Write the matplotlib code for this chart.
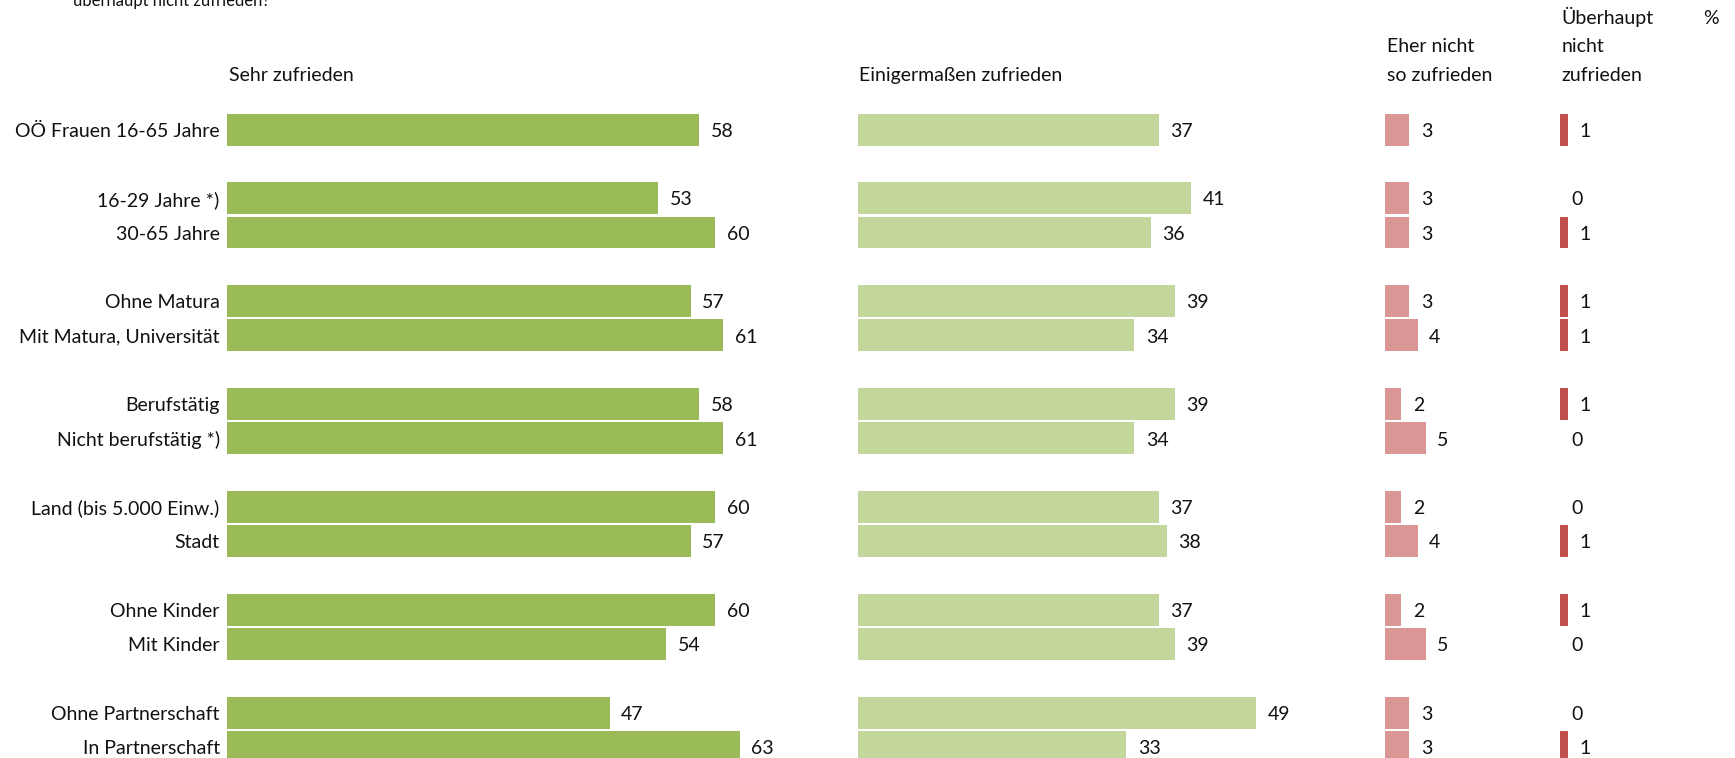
import matplotlib
matplotlib.use("Agg")
import matplotlib.pyplot as plt

plt.rcParams['font.family'] = ['Lato', 'DejaVu Sans']

categories = ["OÖ Frauen 16-65 Jahre", "16-29 Jahre *)", "30-65 Jahre",
              "Ohne Matura", "Mit Matura, Universität",
              "Berufstätig", "Nicht berufstätig *)",
              "Land (bis 5.000 Einw.)", "Stadt",
              "Ohne Kinder", "Mit Kinder",
              "Ohne Partnerschaft", "In Partnerschaft"]
row_pos = [0, 2, 3, 5, 6, 8, 9, 11, 12, 14, 15, 17, 18]

sehr = [58, 53, 60, 57, 61, 58, 61, 60, 57, 60, 54, 47, 63]
einigermassen = [37, 41, 36, 39, 34, 39, 34, 37, 38, 37, 39, 49, 33]
eher_nicht = [3, 3, 3, 3, 4, 2, 5, 2, 4, 2, 5, 3, 3]
ueberhaupt_nicht = [1, 0, 1, 1, 1, 1, 0, 0, 1, 1, 0, 0, 1]

headers = ["Sehr zufrieden", "Einigermaßen zufrieden",
           "Eher nicht\nso zufrieden", "Überhaupt\nnicht\nzufrieden"]
colors = ["#9BBB59", "#C3D69B", "#D99694", "#C0504D"]
offsets = [0, 77.5, 142.3, 163.8]

fig = plt.figure(figsize=(17.35, 7.58), dpi=100)
ax = fig.add_axes([0, 0, 1, 1])
ax.set_xlim(-27.9, 185.3)
ax.set_ylim(18.32, -3.78)
ax.axis("off")

fs = 14
for vals, col, off, head in zip([sehr, einigermassen, eher_nicht, ueberhaupt_nicht],
                                colors, offsets, headers):
    ax.barh(row_pos, vals, left=off, height=0.93, color=col)
    for y, v in zip(row_pos, vals):
        ax.text(off + v + 1.4, y + 0.05, str(v), ha="left", va="center",
                fontsize=fs, color="#111111")
    ax.text(off + 0.2, -1.32, head, ha="left", va="bottom", fontsize=fs,
            color="#111111", linespacing=1.85)

for y, c in zip(row_pos, categories):
    ax.text(-0.9, y + 0.05, c, ha="right", va="center", fontsize=fs, color="#111111")

ax.text(182.4, -3.25, "%", ha="center", va="center", fontsize=fs, color="#111111")
ax.text(-18.9, -3.76, "überhaupt nicht zufrieden?", ha="left", va="center",
        fontsize=fs - 2, color="#111111")

fig.savefig("out.png", dpi=100)
